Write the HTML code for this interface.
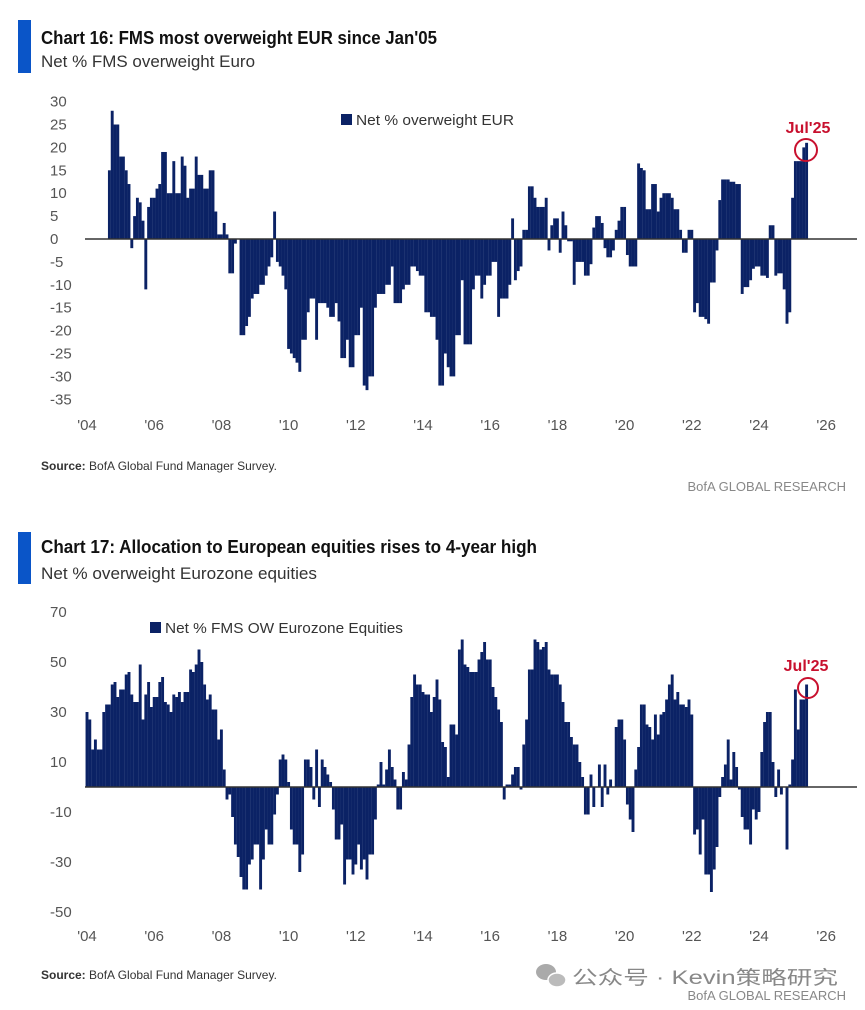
<!DOCTYPE html>
<html><head><meta charset="utf-8"><style>
html,body{margin:0;padding:0;background:#fff;}
svg{display:block;font-family:"Liberation Sans","Noto Sans CJK SC",sans-serif;}
</style></head><body>
<svg id="root" width="865" height="1010" viewBox="0 0 865 1010" xmlns="http://www.w3.org/2000/svg">
<g>
<rect x="18" y="20" width="13" height="53" fill="#0a55c8"/>
<text x="41" y="44" font-size="18" font-weight="bold" fill="#111" textLength="396" lengthAdjust="spacingAndGlyphs">Chart 16: FMS most overweight EUR since Jan'05</text>
<text x="41" y="67" font-size="17" fill="#333" textLength="214" lengthAdjust="spacingAndGlyphs">Net % FMS overweight Euro</text>
<g id="c1y"></g>
<g id="c1x"></g>
<g id="c1bars"></g>
<line x1="85" y1="239" x2="857" y2="239" stroke="#333" stroke-width="1.5"/>
<rect x="341" y="114" width="11" height="11" fill="#0b2265"/>
<text x="356" y="125" font-size="15" fill="#333" textLength="158" lengthAdjust="spacingAndGlyphs">Net % overweight EUR</text>
<text x="808" y="133" font-size="16" font-weight="bold" fill="#c8102e" text-anchor="middle">Jul'25</text>
<circle cx="806" cy="150" r="11" fill="none" stroke="#c8102e" stroke-width="2"/>
<text x="41" y="470" font-size="12" fill="#333"><tspan font-weight="bold">Source:</tspan> BofA Global Fund Manager Survey.</text>
<text x="846" y="491" font-size="13" fill="#888" text-anchor="end">BofA GLOBAL RESEARCH</text>
</g>
<g>
<rect x="18" y="532" width="13" height="52" fill="#0a55c8"/>
<text x="41" y="553" font-size="18" font-weight="bold" fill="#111" textLength="496" lengthAdjust="spacingAndGlyphs">Chart 17: Allocation to European equities rises to 4-year high</text>
<text x="41" y="579" font-size="17" fill="#333" textLength="276" lengthAdjust="spacingAndGlyphs">Net % overweight Eurozone equities</text>
<g id="c2y"></g>
<g id="c2x"></g>
<g id="c2bars"></g>
<line x1="85" y1="787" x2="857" y2="787" stroke="#333" stroke-width="1.5"/>
<rect x="150" y="622" width="11" height="11" fill="#0b2265"/>
<text x="165" y="633" font-size="15" fill="#333" textLength="238" lengthAdjust="spacingAndGlyphs">Net % FMS OW Eurozone Equities</text>
<text x="806" y="671" font-size="16" font-weight="bold" fill="#c8102e" text-anchor="middle">Jul'25</text>
<circle cx="808" cy="688" r="10" fill="none" stroke="#c8102e" stroke-width="2"/>
<text x="41" y="979" font-size="12" fill="#333"><tspan font-weight="bold">Source:</tspan> BofA Global Fund Manager Survey.</text>
<g>
<ellipse cx="546" cy="972" rx="10" ry="8" fill="#aaa"/>
<ellipse cx="557" cy="980" rx="9" ry="7" fill="#bbb" stroke="#fff" stroke-width="1.5"/>
<text x="572" y="984" font-size="19" fill="#888" textLength="266" lengthAdjust="spacingAndGlyphs">公众号 · Kevin策略研究</text>
</g>
<text x="846" y="1000" font-size="13" fill="#888" text-anchor="end">BofA GLOBAL RESEARCH</text>
</g>
</svg>
<script>
const eurStart = 2004 + 8/12;
const eurValues = [15,28,25,25,18,18,15,12,-2,5,
9,8,4,-11,7,9,9,11,12,19,
19,10,10,17,10,10,18,16,9,11,
11,18,14,14,11,11,15,15,6,1,
1,3.5,1,-7.5,-7.5,-1,0,-21,-21,-19,
-17,-13,-12,-12,-10,-10,-8,-6,-4,6,
-5,-6,-8,-11,-24,-25,-26,-27,-29,-22,
-22,-16,-13,-13,-22,-14,-14,-14,-15,-17,
-17,-14,-18,-26,-26,-22,-28,-28,-21,-21,
-15,-32,-33,-30,-30,-15,-12,-12,-12,-10,
-10,-6,-14,-14,-14,-11,-10,-10,-6,-6,
-7,-8,-8,-16,-16,-17,-17,-22,-32,-32,
-25,-28,-30,-30,-21,-21,-9,-23,-23,-23,
-11,-8,-8,-13,-10,-8,-8,-5,-5,-17,
-13,-13,-13,-10,4.5,-9,-7,-6,2,2,
11.5,11.5,9,7,7,7,9,-2.5,3,4.5,
4.5,-3,6,3,-0.5,-0.5,-10,-5,-5,-5,
-8,-8,-5.5,2.5,5,5,3.5,-2,-4,-4,
-2.5,2,4,7,7,-3.5,-6,-6,-6,16.5,
15.5,15,6.5,6.5,12,12,6,9,10,10,
10,9,6.5,6.5,2,-3,-3,2,2,-16,
-14,-17,-17,-17.5,-18.5,-9.5,-9.5,-2.5,8.5,13,
13,13,12.5,12.5,12,12,-12,-10.5,-10.5,-9,
-6.5,-6,-6,-8,-8,-8.5,3,3,-8,-7.5,
-7.5,-11,-18.5,-16,9,17,17,17,20,21];
const eurTicks = [30,25,20,15,10,5,0,-5,-10,-15,-20,-25,-30,-35];
const eqStart = 2004.0;
const eqValues = [30,27,15,19,15,15,30,33,33,41,
42,36,39,39,45,46,37,34,34,49,
27,37,42,32,36,36,42,44,34,33,
30,37,36,38,34,38,38,47,46,49,
55,50,41,35,37,31,31,19,23,7,
-5,-3,-12,-23,-28,-36,-41,-41,-31,-29,
-23,-23,-41,-29,-17,-23,-23,-11,-3,11,
13,11,2,-17,-23,-23,-34,-27,11,11,
8,-5,15,-8,11,8,5,2,-9,-21,
-21,-15,-39,-29,-29,-35,-31,-23,-33,-29,
-37,-27,-27,-13,1,10,1,7,15,8,
3,-9,-9,6,3,17,36,45,41,41,
38,37,37,30,36,43,35,18,16,4,
25,25,21,55,59,49,48,46,46,46,
51,54,58,51,51,40,36,31,26,-5,
1,1,5,8,8,-1,17,27,47,47,
59,58,55,56,58,47,45,45,45,41,
34,26,26,20,17,17,10,4,-11,-11,
5,-8,0,9,-8,9,-3,3,0,24,
27,27,19,-7,-13,-18,7,16,33,33,
25,24,19,29,21,29,30,35,41,45,
35,38,33,33,32,35,29,-19,-17,-27,
-13,-35,-35,-42,-33,-24,-4,4,9,19,
3,14,8,-1,-12,-17,-17,-23,-9,-13,
-10,14,26,30,30,10,-4,7,-3,0,
-25,1,11,39,23,35,35,41];
const eqTicks = [70,50,30,10,-10,-30,-50];
const yearLabels = ["'04","'06","'08","'10","'12","'14","'16","'18","'20","'22","'24","'26"];
const yearVals = [2004,2006,2008,2010,2012,2014,2016,2018,2020,2022,2024,2026];

const NS = "http://www.w3.org/2000/svg";
function xPos(t){ return 87 + (t-2004)*33.6; }
function y1(v){ return 239 - v*4.58; }
function y2(v){ return 787 - v*2.5; }
function mk(tag, attrs, parent){ const e=document.createElementNS(NS,tag); for(const k in attrs) e.setAttribute(k,attrs[k]); parent.appendChild(e); return e; }

function drawChart(values, start, yf, barsG, yG, xG, ticks, xLabelY){
  values.forEach(function(v,i){
    const t = start + i/12;
    const x = xPos(t);
    const y0 = yf(0), yv = yf(v);
    const r = mk('rect',{x:(x-1.45).toFixed(2), y:Math.min(y0,yv).toFixed(2), width:2.9, height:Math.abs(yv-y0).toFixed(2), fill:'#0b2265'}, barsG);
    
    
  });
  ticks.forEach(function(v){
    const tx = mk('text',{x:50, y:(yf(v)+5).toFixed(1), 'font-size':15, fill:'#555'}, yG);
    tx.textContent = v;
    
    
  });
  yearVals.forEach(function(yv,k){
    const tx = mk('text',{x:xPos(yv).toFixed(1), y:xLabelY, 'font-size':15, fill:'#555', 'text-anchor':'middle'}, xG);
    tx.textContent = yearLabels[k];
    
    
  });
}
drawChart(eurValues, eurStart, y1, document.getElementById('c1bars'), document.getElementById('c1y'), document.getElementById('c1x'), eurTicks, 430);
drawChart(eqValues, eqStart, y2, document.getElementById('c2bars'), document.getElementById('c2y'), document.getElementById('c2x'), eqTicks, 941);
</script>
</body></html>
